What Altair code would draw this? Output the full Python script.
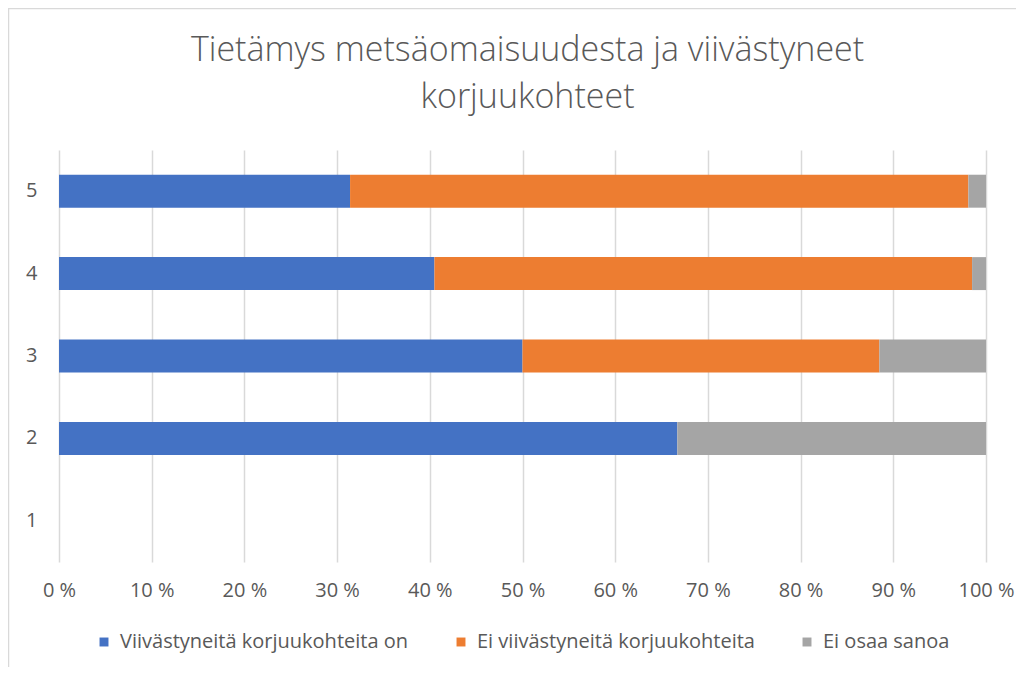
import altair as alt
import pandas as pd

categories = ["5", "4", "3", "2"]
all_categories = ["5", "4", "3", "2", "1"]
series = ["Viivästyneitä korjuukohteita on", "Ei viivästyneitä korjuukohteita", "Ei osaa sanoa"]
blue_vals = [31.4, 40.5, 50.0, 66.7]
orange_vals = [66.7, 58.0, 38.5, 0.0]
gray_vals = [1.9, 1.5, 11.5, 33.3]
colors = ["#4472C4", "#ED7D31", "#A5A5A5"]
x_ticks = [0, 10, 20, 30, 40, 50, 60, 70, 80, 90, 100]
title_lines = ["Tietämys metsäomaisuudesta ja viivästyneet", "korjuukohteet"]

rows = []
for i, c in enumerate(categories):
    for k, vals in enumerate([blue_vals, orange_vals, gray_vals]):
        rows.append({"cat": c, "series": series[k], "value": vals[i], "order": k})
df = pd.DataFrame(rows)

FONT = "Open Sans"
TXT = "#595959"
FS = 20

bars = alt.Chart(df).mark_bar().encode(
    y=alt.Y("cat:N", sort=all_categories,
            scale=alt.Scale(domain=all_categories, paddingInner=0.6, paddingOuter=0.3),
            axis=alt.Axis(title=None, domain=False, ticks=False, labelPadding=22,
                          labelFontSize=FS, labelColor=TXT, labelFont=FONT, grid=False)),
    x=alt.X("value:Q", stack="zero",
            scale=alt.Scale(domain=[0, 100], nice=False),
            axis=alt.Axis(title=None, values=x_ticks, labelExpr="datum.value + ' %'",
                          domain=False, ticks=False, grid=True, gridColor="#d9d9d9",
                          gridWidth=1.5, labelPadding=18, labelFontSize=FS,
                          labelColor=TXT, labelFont=FONT, labelFlush=False)),
    color=alt.Color("series:N", scale=alt.Scale(domain=series, range=colors),
                    legend=alt.Legend(title=None, orient="none", legendX=35, legendY=482,
                                      direction="horizontal", columns=3, symbolType="square",
                                      symbolSize=80, symbolStrokeWidth=0, labelFontSize=FS,
                                      labelColor=TXT, labelFont=FONT, columnPadding=42,
                                      labelOffset=6, padding=0, labelLimit=0)),
    order=alt.Order("order:Q"),
)

border = alt.Chart(pd.DataFrame({"a": [0]})).mark_rect(
    fill="transparent", stroke="#d9d9d9", strokeWidth=1.5
).encode(x=alt.value(-50.5), y=alt.value(-141.5), x2=alt.value(3000), y2=alt.value(3000))

chart = alt.layer(border, bars).properties(
    width=927, height=412,
    padding={"left": 51, "top": 142, "right": 30, "bottom": 105},
    autosize=alt.AutoSizeParams(type="none"),
    title=alt.TitleParams(title_lines, font=FONT, fontSize=34, fontWeight=300, color=TXT,
                          anchor="middle", offset=-107, lineHeight=47, dx=5),
).configure_view(stroke=None)

chart.save("out.html", embed_options={"renderer": "svg", "actions": False})
